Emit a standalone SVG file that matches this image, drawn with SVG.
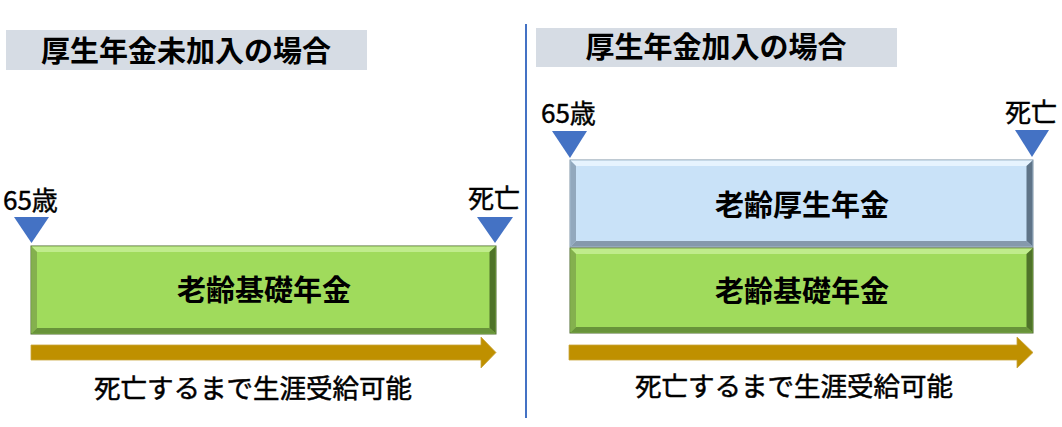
<svg xmlns="http://www.w3.org/2000/svg" width="1062" height="427" viewBox="0 0 1062 427">
<style>
text{font-family:"Noto Sans CJK JP","Noto Sans CJK SC",sans-serif;fill:#000}
.title{font-size:29px;font-weight:bold;text-anchor:middle}
.mark{font-size:26px;stroke:#000;stroke-width:0.45}
.lbl{font-size:29px;font-weight:bold;text-anchor:middle}
.note{font-size:26.5px;text-anchor:middle;stroke:#000;stroke-width:0.5}
.tbox{fill:#D6DCE4}
.tri{fill:#4472C4}
.arr{fill:#BF9000;stroke:#C9A43A;stroke-width:0.8}
.g-base{fill:#A0DB5C;stroke:#4F6B2F;stroke-width:1}
.g-top{fill:#C0EC8C}
.g-left{fill:#84B04E}
.g-right{fill:#4F7329}
.g-bot{fill:#68933A}
.b-base{fill:#C9E2F8;stroke:#7F93A6;stroke-width:1}
.b-top{fill:#E6F3FE}
.b-left{fill:#92A8BD}
.b-right{fill:#5F7488}
.b-bot{fill:#8599AC}
</style>
<rect width="1062" height="427" fill="#fff"/>
<line x1="526" y1="24" x2="526" y2="418" stroke="#4472C4" stroke-width="2"/>

<g id="title-left">
<rect class="tbox" x="6" y="30" width="361" height="40"/>
<text class="title" x="186" y="62">厚生年金未加入の場合</text>
</g>
<g id="title-right">
<rect class="tbox" x="536" y="28" width="361" height="39"/>
<text class="title" x="716" y="58">厚生年金加入の場合</text>
</g>

<g id="left-start">
<polygon class="tri" points="14,217 49,217 31.5,243"/>
<text class="mark" x="3" y="210">65歳</text>
</g>
<g id="left-end">
<polygon class="tri" points="477,217 513,217 495,243"/>
<text class="mark" x="468" y="208">死亡</text>
</g>
<g id="right-start">
<polygon class="tri" points="552,131 587,131 570,158"/>
<text class="mark" x="541" y="123">65歳</text>
</g>
<g id="right-end">
<polygon class="tri" points="1015,130 1049,130 1032,157"/>
<text class="mark" x="1005" y="122">死亡</text>
</g>

<g id="left-basic">
<rect class="g-base" x="31" y="246" width="465" height="88"/>
<polygon class="g-top" points="31.5,246.5 495.5,246.5 489.5,252 37,252"/>
<polygon class="g-left" points="31.5,246.5 37,252 37,328 31.5,333.5"/>
<polygon class="g-right" points="495.5,246.5 495.5,333.5 489.5,328 489.5,252"/>
<polygon class="g-bot" points="31.5,333.5 37,328 489.5,328 495.5,333.5"/>
<text class="lbl" x="264" y="301">老齢基礎年金</text>
</g>

<g id="right-employee">
<rect class="b-base" x="570" y="160" width="463" height="87"/>
<polygon class="b-top" points="570.5,160.5 1032.5,160.5 1026.5,166 576,166"/>
<polygon class="b-left" points="570.5,160.5 576,166 576,241 570.5,246.5"/>
<polygon class="b-right" points="1032.5,160.5 1032.5,246.5 1026.5,241 1026.5,166"/>
<polygon class="b-bot" points="570.5,246.5 576,241 1026.5,241 1032.5,246.5"/>
<text class="lbl" x="802" y="216">老齢厚生年金</text>
</g>

<g id="right-basic">
<rect class="g-base" x="570" y="248" width="463" height="85"/>
<polygon class="g-top" points="570.5,248.5 1032.5,248.5 1026.5,254 576,254"/>
<polygon class="g-left" points="570.5,248.5 576,254 576,327 570.5,332.5"/>
<polygon class="g-right" points="1032.5,248.5 1032.5,332.5 1026.5,327 1026.5,254"/>
<polygon class="g-bot" points="570.5,332.5 576,327 1026.5,327 1032.5,332.5"/>
<text class="lbl" x="802" y="302">老齢基礎年金</text>
</g>

<g id="arrows">
<polygon class="arr" points="31,345 481,345 481,337 496,352.5 481,368 481,360 31,360"/>
<polygon class="arr" points="569,345 1017,345 1017,337 1033,352.5 1017,368 1017,360 569,360"/>
</g>

<g id="notes">
<text class="note" x="253" y="398">死亡するまで生涯受給可能</text>
<text class="note" x="794" y="396">死亡するまで生涯受給可能</text>
</g>
</svg>
